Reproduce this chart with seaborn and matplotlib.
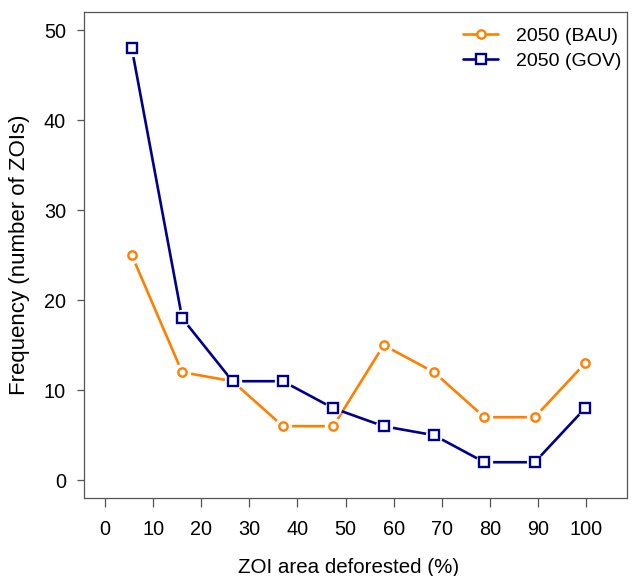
import numpy as np
import pandas as pd
import matplotlib
matplotlib.use("Agg")
import matplotlib.pyplot as plt
from matplotlib.lines import Line2D
import seaborn as sns

# ---- data ----
bins = [5, 15, 25, 35, 45, 55, 65, 75, 85, 95]
bau_2050 = [25, 12, 11, 6, 6, 15, 12, 7, 7, 13]
gov_2050 = [48, 18, 11, 11, 8, 6, 5, 2, 2, 8]
series_names = ["2050 (BAU)", "2050 (GOV)"]
x_tick_labels = [0, 10, 20, 30, 40, 50, 60, 70, 80, 90, 100]
y_ticks = [0, 10, 20, 30, 40, 50]

ORANGE = "#FF8000"
BLUE = "#00008B"

sns.set_theme(style="white")
plt.rcParams["font.family"] = ["Liberation Sans", "DejaVu Sans"]

fig = plt.figure(figsize=(6.32, 5.76), dpi=100)
ax = fig.add_axes([0.133, 0.135, 0.859, 0.844])

specs = [(bau_2050, ORANGE, "o", 6.0), (gov_2050, BLUE, "s", 6.6)]
for i, (vals, col, mk, ms) in enumerate(specs):
    z = 2 + 3 * i
    # connecting line (R type="b": gaps around points)
    sns.lineplot(x=bins, y=vals, color=col, linewidth=1.9, ax=ax, zorder=z)
    # white halo creating the gap between line and point
    ax.plot(bins, vals, linestyle="none", marker="o", markersize=12.5,
            markerfacecolor="white", markeredgecolor="white",
            markeredgewidth=0, zorder=z + 1)
    # hollow point markers
    ax.plot(bins, vals, linestyle="none", marker=mk, markersize=ms,
            markerfacecolor="white", markeredgecolor=col,
            markeredgewidth=1.7, zorder=z + 2)

ax.set_xlim(-4.47, 103.3)
ax.set_ylim(-2, 52)
ax.set_xticks(np.linspace(-0.3, 95.2, len(x_tick_labels)))
ax.set_xticklabels([str(v) for v in x_tick_labels])
ax.set_yticks(y_ticks)
ax.set_yticklabels([str(v) for v in y_ticks])

for s in ax.spines.values():
    s.set_visible(True)
    s.set_color("#555555")
    s.set_linewidth(0.9)

ax.tick_params(axis="x", direction="out", length=6.5, width=0.9, color="#555555",
               labelsize=14.3, labelcolor="black", pad=9, bottom=True)
ax.tick_params(axis="y", direction="out", length=5, width=0.9, color="#555555",
               labelsize=14.3, labelcolor="black", pad=8, left=True)
ax.set_xlabel("ZOI area deforested (%)", fontsize=14.8, labelpad=14, color="black")
ax.xaxis.label.set_x(0.488)
ax.set_ylabel("Frequency (number of ZOIs)", fontsize=16, labelpad=10, color="black")

handles = [
    Line2D([], [], color=ORANGE, lw=1.9, marker="o", markersize=6,
           markerfacecolor="white", markeredgecolor=ORANGE, markeredgewidth=1.7),
    Line2D([], [], color=BLUE, lw=1.9, marker="s", markersize=6.6,
           markerfacecolor="white", markeredgecolor=BLUE, markeredgewidth=1.7),
]
leg = ax.legend(handles, series_names, loc="upper right", frameon=False, fontsize=14,
                handlelength=1.8, handletextpad=0.9, labelspacing=0.35,
                borderpad=0, borderaxespad=0.3, bbox_to_anchor=(1.0, 0.98))
for t in leg.get_texts():
    t.set_color("black")

fig.savefig("out.png", dpi=100)
